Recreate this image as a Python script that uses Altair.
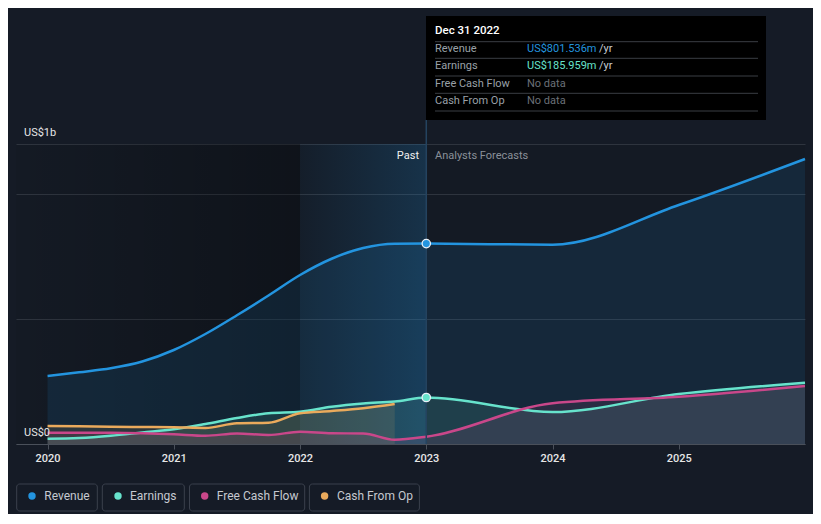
import altair as alt
import pandas as pd

# ---------------- data ----------------
series_names = ["Revenue", "Earnings", "Free Cash Flow", "Cash From Op"]
series_colors = ["#2394DF", "#67E3CC", "#C9478A", "#EAAA5C"]

past_years = [2020.0, 2020.25, 2020.5, 2020.75, 2021.0, 2021.25, 2021.5, 2021.75,
              2022.0, 2022.25, 2022.5, 2022.75]
forecast_years = [2023.0, 2024.0, 2025.0, 2026.0]

revenue_years = past_years + forecast_years
revenue_m = [272, 287, 303, 330, 376, 440, 515, 594, 676, 741, 784, 801,
             801.536, 797, 956, 1140]

earnings_years = past_years + forecast_years
earnings_m = [21, 24, 33, 46, 59, 80, 104, 123, 129, 149, 162, 170,
              185.959, 128, 200, 245]

fcf_years = past_years + forecast_years
fcf_m = [45, 45, 45, 43, 39, 33, 42, 36, 49, 43, 42, 17,
         29, 163, 189, 232]

cfo_years = past_years
cfo_m = [72, 71, 69, 68, 67, 64, 83, 85, 123, 132, 143, 160]

x_ticks = [2020, 2021, 2022, 2023, 2024, 2025]
grid_values_m = [0, 500, 1000, 1200]
y_label_values = [0, 1200]
y_label_texts = ["US$0", "US$1b"]

tooltip_title = "Dec 31 2022"
tooltip_labels = ["Revenue", "Earnings", "Free Cash Flow", "Cash From Op"]
tooltip_values = ["US$801.536m", "US$185.959m", "No data", "No data"]
tooltip_units = ["/yr", "/yr", "", ""]

now_year = 2023.0
past_start = 2022.0
x_domain = [2019.75, 2026.0]
y_domain = [0, 1200]

# ---------------- tables ----------------
rows = []
for name, yrs, vals in [("Revenue", revenue_years, revenue_m),
                        ("Earnings", earnings_years, earnings_m),
                        ("Free Cash Flow", fcf_years, fcf_m),
                        ("Cash From Op", cfo_years, cfo_m)]:
    for yv, v in zip(yrs, vals):
        rows.append({"series": name, "year": yv, "value": v})
df = pd.DataFrame(rows)

FONT = "Roboto"
BG = "#151b26"

xs = alt.Scale(domain=x_domain, nice=False, zero=False)
ys = alt.Scale(domain=y_domain, nice=False)
col = alt.Color("series:N", scale=alt.Scale(domain=series_names, range=series_colors), legend=None)

x_axis = alt.Axis(values=x_ticks, format="d", labelColor="#e6e6e6", labelFontSize=11,
                  labelFont=FONT, labelFontWeight=500, tickColor="#4a505a", tickSize=5,
                  domainColor="#4a505a", grid=False, title=None, labelPadding=3)
y_axis = alt.Axis(values=grid_values_m, grid=True, gridColor="#2e343e", labels=False,
                  ticks=False, domain=False, title=None)

X = lambda f: alt.X(f, scale=xs, axis=x_axis, title=None)
Y = lambda f: alt.Y(f, scale=ys, axis=y_axis, title=None, stack=None)

# shading rectangles
shade_df = pd.DataFrame({"x0": [x_domain[0]], "x1": [past_start]})
shade_dark = alt.Chart(shade_df).mark_rect(
    color=alt.Gradient(gradient="linear",
                       stops=[alt.GradientStop(color="rgba(0,0,0,0)", offset=0),
                              alt.GradientStop(color="rgba(0,0,0,0.28)", offset=1)],
                       x1=0, x2=1, y1=0, y2=0)
).encode(x=X("x0:Q"), x2="x1:Q", y=alt.value(0), y2=alt.value(300))

shade2_df = pd.DataFrame({"x0": [past_start], "x1": [now_year]})
shade_blue = alt.Chart(shade2_df).mark_rect(
    color=alt.Gradient(gradient="linear",
                       stops=[alt.GradientStop(color="rgba(35,148,223,0.03)", offset=0),
                              alt.GradientStop(color="rgba(35,148,223,0.20)", offset=1)],
                       x1=0, x2=1, y1=0, y2=0)
).encode(x=X("x0:Q"), x2="x1:Q", y=alt.value(0), y2=alt.value(300))

grid = alt.Chart(pd.DataFrame({"g": grid_values_m})).mark_tick(opacity=0).encode(
    y=Y("g:Q"))

areas = alt.Chart(df).mark_area(interpolate="monotone", opacity=0.12).encode(
    x=X("year:Q"), y=Y("value:Q"), color=col, detail="series:N")

lines = alt.Chart(df).mark_line(interpolate="monotone", strokeWidth=2.5).encode(
    x=X("year:Q"), y=Y("value:Q"), color=col, detail="series:N")

now_rule = alt.Chart(pd.DataFrame({"year": [now_year]})).mark_rule(
    color="#24435f", strokeWidth=1.5).encode(
    x=X("year:Q"), y=alt.value(-24), y2=alt.value(300))

pts = alt.Chart(df[(df["year"] == now_year) & (df["series"].isin(["Revenue", "Earnings"]))]).mark_point(
    filled=True, size=70, stroke="#e8f0f8", strokeWidth=1.3, opacity=1).encode(
    x=X("year:Q"), y=Y("value:Q"),
    fill=alt.Fill("series:N", scale=alt.Scale(domain=series_names, range=series_colors), legend=None))

ylab = alt.Chart(pd.DataFrame({"v": y_label_values, "t": y_label_texts})).mark_text(
    align="left", baseline="alphabetic", dy=-8, font=FONT, fontSize=11, color="#e6e6e6").encode(
    x=alt.value(8), y=Y("v:Q"), text="t:N")

past_txt = alt.Chart(pd.DataFrame({"t": ["Past"]})).mark_text(
    align="right", baseline="middle", font=FONT, fontSize=11, color="#f0f0f0").encode(
    x=alt.value(403), y=alt.value(12), text="t:N")
fc_txt = alt.Chart(pd.DataFrame({"t": ["Analysts Forecasts"]})).mark_text(
    align="left", baseline="middle", font=FONT, fontSize=11, color="#8a9099").encode(
    x=alt.value(419), y=alt.value(12), text="t:N")

# tooltip
tip_box = alt.Chart(pd.DataFrame({"a": [1]})).mark_rect(color="#000000").encode(
    x=alt.value(410), x2=alt.value(750), y=alt.value(-128), y2=alt.value(-24))
tip_title = alt.Chart(pd.DataFrame({"t": [tooltip_title]})).mark_text(
    align="left", baseline="middle", font=FONT, fontSize=11.5, fontWeight=500, color="#ffffff").encode(
    x=alt.value(419), y=alt.value(-113), text="t:N")
row_y = [-94.7, -78, -60, -43.3]
sep_y = [-102.3, -85.7, -68, -50.7, -33]
value_colors = [series_colors[0], series_colors[1], "#6b7078", "#6b7078"]
tip_df = pd.DataFrame({"label": tooltip_labels, "value": tooltip_values, "unit": tooltip_units,
                       "vcolor": value_colors, "py": row_y})
tip_lab = alt.Chart(tip_df).mark_text(align="left", baseline="middle", font=FONT, fontSize=11,
                                      color="#9aa0a8").encode(
    x=alt.value(419), y=alt.Y("py:Q", scale=None), text="label:N")
tip_val = alt.Chart(tip_df).mark_text(align="left", baseline="middle", font=FONT, fontSize=11).encode(
    x=alt.value(511), y=alt.Y("py:Q", scale=None), text="value:N",
    color=alt.Color("vcolor:N", scale=None))
tip_unit = alt.Chart(tip_df).mark_text(align="left", baseline="middle", font=FONT, fontSize=11,
                                       color="#c8ccd2").encode(
    x=alt.value(583), y=alt.Y("py:Q", scale=None), text="unit:N")
tip_sep = alt.Chart(pd.DataFrame({"py": sep_y})).mark_rule(color="#3a3e44", strokeWidth=1).encode(
    x=alt.value(419), x2=alt.value(742), y=alt.Y("py:Q", scale=None))

# legend
leg_df = pd.DataFrame({"name": series_names, "color": series_colors,
                       "bx0": [0.7, 86.3, 173.5, 293.4], "bx1": [81.3, 168.3, 288.7, 403.4],
                       "cx": [16, 102, 188.7, 308.6], "tx": [28.3, 114, 200.8, 321]})
leg_box = alt.Chart(leg_df).mark_rect(fillOpacity=0, stroke="#3b414d", strokeWidth=1,
                                      cornerRadius=3).encode(
    x=alt.X("bx0:Q", scale=None), x2="bx1:Q", y=alt.value(340), y2=alt.value(367))
leg_dot = alt.Chart(leg_df).mark_circle(size=55, opacity=1).encode(
    x=alt.X("cx:Q", scale=None), y=alt.value(352), color=alt.Color("color:N", scale=None))
leg_txt = alt.Chart(leg_df).mark_text(align="left", baseline="middle", font=FONT, fontSize=12,
                                      color="#c5c9d0").encode(
    x=alt.X("tx:Q", scale=None), y=alt.value(352), text="name:N")

chart = alt.layer(
    shade_dark, shade_blue, grid, areas, lines, now_rule, pts, ylab, past_txt, fc_txt,
    tip_box, tip_sep, tip_title, tip_lab, tip_val, tip_unit, leg_box, leg_dot, leg_txt
).properties(
    width=789, height=300,
    padding={"left": 8, "top": 136, "right": 8, "bottom": 70},
    autosize=alt.AutoSizeParams(type="none"),
    background=BG,
).configure_view(stroke=None, fill="#141a24")

chart.save("out.html", embed_options={"renderer": "svg", "actions": False})
